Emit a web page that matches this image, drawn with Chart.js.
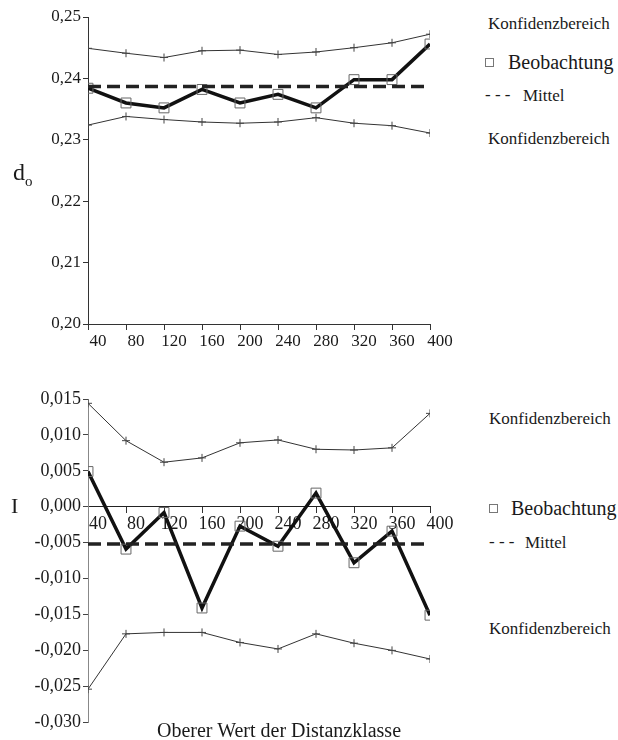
<!DOCTYPE html>
<html>
<head>
<meta charset="utf-8">
<script src="https://cdn.jsdelivr.net/npm/chart.js@4"></script>
<style>
    body { margin: 0; background: #fff; width: 618px; height: 740px; position: relative; overflow: hidden; font-family: "Liberation Serif", serif; color: #1a1a1a; }
    canvas { position: absolute; left: 0; }
    .txt { position: absolute; line-height: 1; white-space: nowrap; }
    .box { position: absolute; width: 7px; height: 7px; border: 1px solid #777; }
</style>
</head>
<body>
<canvas id="chartD0" width="460" height="352" style="top:0"></canvas>
<canvas id="chartI" width="460" height="355" style="top:380px"></canvas>

<!-- legend / labels, top chart -->
<div class="txt" style="left:488px;top:15px;font-size:17px">Konfidenzbereich</div>
<div class="box" style="left:485px;top:58px"></div>
<div class="txt" style="left:508px;top:52px;font-size:20px">Beobachtung</div>
<div class="txt" style="left:485px;top:86px;font-size:17px">- - -</div>
<div class="txt" style="left:523px;top:87px;font-size:17px">Mittel</div>
<div class="txt" style="left:488px;top:130px;font-size:17px">Konfidenzbereich</div>
<div class="txt" style="left:13px;top:160px;font-size:24px">d<span style="font-size:15px;position:relative;top:6px">o</span></div>

<!-- legend / labels, bottom chart -->
<div class="txt" style="left:489px;top:410px;font-size:17px">Konfidenzbereich</div>
<div class="box" style="left:489px;top:504px"></div>
<div class="txt" style="left:511px;top:498px;font-size:20px">Beobachtung</div>
<div class="txt" style="left:489px;top:533px;font-size:17px">- - -</div>
<div class="txt" style="left:525px;top:534px;font-size:17px">Mittel</div>
<div class="txt" style="left:489px;top:620px;font-size:17px">Konfidenzbereich</div>
<div class="txt" style="left:11px;top:495px;font-size:22px">I</div>
<div class="txt" style="left:157px;top:720px;font-size:20px">Oberer Wert der Distanzklasse</div>

<script>
// Obere Werte der Distanzklassen
const distances = [40, 80, 120, 160, 200, 240, 280, 320, 360, 400];

// d0
const d0Obs   = [0.2384, 0.2360, 0.2352, 0.2382, 0.2360, 0.2374, 0.2352, 0.2398, 0.2398, 0.2456];
const d0Upper = [0.2449, 0.2441, 0.2434, 0.2445, 0.2446, 0.2439, 0.2443, 0.2450, 0.2458, 0.2472];
const d0Lower = [0.2324, 0.2338, 0.2333, 0.2329, 0.2327, 0.2329, 0.2336, 0.2327, 0.2323, 0.2311];
const d0Mean  = 0.2387;

// I
const iObs   = [0.0049, -0.0059, -0.0008, -0.0141, -0.0027, -0.0055, 0.0019, -0.0078, -0.0034, -0.0151];
const iUpper = [0.0144, 0.0092, 0.0062, 0.0068, 0.0089, 0.0093, 0.0080, 0.0079, 0.0082, 0.0130];
const iLower = [-0.0254, -0.0177, -0.0175, -0.0175, -0.0189, -0.0198, -0.0177, -0.0190, -0.0200, -0.0212];
const iMean  = -0.0052;

const tickFont = { family: 'Liberation Serif', size: 17 };
const ink = '#1a1a1a';

function pts(values) {
    return distances.map((d, i) => ({ x: d, y: values[i] }));
}

function bandSet(values) {
    return {
        data: pts(values),
        borderColor: '#333',
        borderWidth: 1,
        pointStyle: 'cross',
        pointRadius: 4,
        pointBorderColor: '#444',
        pointBorderWidth: 1,
        tension: 0
    };
}

function buildDatasets(obs, upper, lower, mean) {
    return [
        bandSet(upper),
        bandSet(lower),
        {
            data: [{ x: distances[0], y: mean }, { x: distances[distances.length - 1], y: mean }],
            borderColor: '#222',
            borderWidth: 3.5,
            borderDash: [13, 6],
            pointRadius: 0
        },
        {
            data: pts(obs),
            borderColor: '#111',
            borderWidth: 3.5,
            pointStyle: 'rect',
            pointRadius: 7,
            pointBackgroundColor: 'rgba(0,0,0,0)',
            pointBorderColor: '#666',
            pointBorderWidth: 1
        }
    ];
}

const commonOptions = {
    responsive: false,
    animation: false,
    plugins: { legend: { display: false }, tooltip: { enabled: false } }
};

// d0 chart
new Chart(document.getElementById('chartD0'), {
    type: 'line',
    data: { datasets: buildDatasets(d0Obs, d0Upper, d0Lower, d0Mean) },
    options: {
        ...commonOptions,
        layout: { padding: { top: 17, right: 30, left: 0, bottom: 0 } },
        scales: {
            x: {
                type: 'linear',
                min: 40, max: 400,
                grid: { drawOnChartArea: false, tickLength: 6, color: '#333' },
                border: { color: '#333', width: 1 },
                ticks: { stepSize: 40, font: tickFont, color: ink, labelOffset: 10, padding: 1, maxRotation: 0 },
                afterFit: s => { s.height = 28; }
            },
            y: {
                min: 0.20, max: 0.25,
                grid: { drawOnChartArea: false, tickLength: 5, color: '#333' },
                border: { color: '#333', width: 1 },
                ticks: { stepSize: 0.01, font: tickFont, color: ink, padding: 2,
                    callback: v => v.toFixed(2).replace('.', ',') },
                afterFit: s => { s.width = 88; }
            }
        }
    }
});

// I chart
new Chart(document.getElementById('chartI'), {
    type: 'line',
    data: { datasets: buildDatasets(iObs, iUpper, iLower, iMean) },
    options: {
        ...commonOptions,
        layout: { padding: { top: 19, right: 30, left: 0, bottom: 12 } },
        scales: {
            x: {
                type: 'linear',
                position: { y: 0 },
                min: 40, max: 400,
                grid: { drawOnChartArea: false, tickLength: 6, color: '#333' },
                border: { color: '#222', width: 1 },
                ticks: { stepSize: 40, font: { family: 'Liberation Serif', size: 18 }, color: ink, labelOffset: 10, padding: 1, maxRotation: 0 }
            },
            y: {
                min: -0.030, max: 0.015,
                grid: { drawOnChartArea: false, tickLength: 5, color: '#444' },
                border: { color: '#888', width: 1, dash: [1, 2] },
                ticks: { stepSize: 0.005, font: { family: 'Liberation Serif', size: 18 }, color: ink, padding: 2,
                    callback: v => v.toFixed(3).replace('.', ',').replace(/^(-?)0,000$/, '0,000') },
                afterFit: s => { s.width = 88; }
            }
        }
    }
});
</script>
</body>
</html>
